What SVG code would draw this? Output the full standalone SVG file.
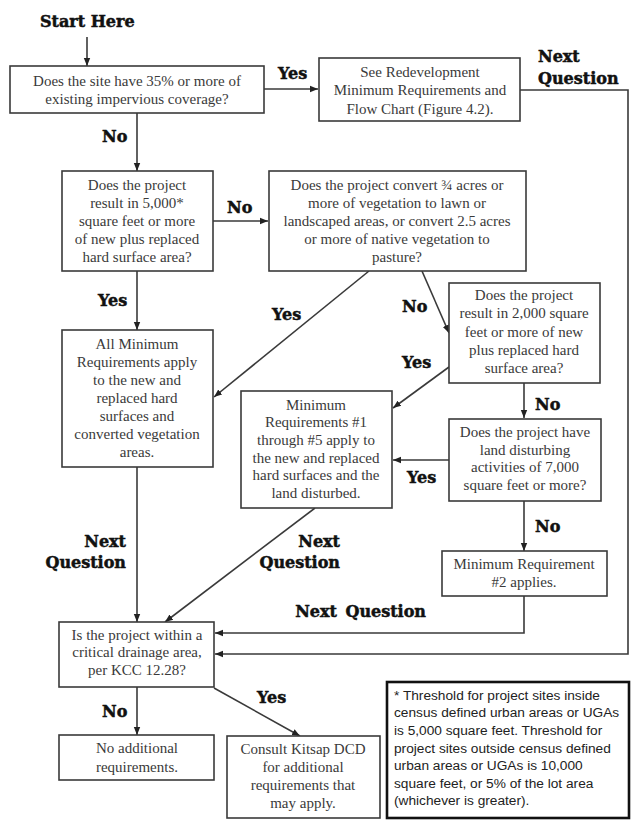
<svg xmlns="http://www.w3.org/2000/svg" width="644" height="834" viewBox="0 0 644 834">
<defs>
<marker id="ah" viewBox="0 0 10 10" refX="10" refY="5" markerWidth="8" markerHeight="8" markerUnits="userSpaceOnUse" orient="auto">
<path d="M0,1 L10,5 L0,9 z" fill="#222"/>
</marker>
<style>
.box{fill:#fff;stroke:#3a3a3a;stroke-width:1.6}
.note{fill:#fff;stroke:#111;stroke-width:2.6}
.t{font-family:"Liberation Serif","Times New Roman",serif;font-size:15px;fill:#3a3a3a;text-anchor:middle}
.n{font-family:"Liberation Sans",Arial,sans-serif;font-size:13.7px;fill:#222}
.lb{font-family:"DejaVu Serif",serif;font-weight:bold;font-size:16px;fill:#111;stroke:#111;stroke-width:0.5}
.c{fill:none;stroke:#3a3a3a;stroke-width:1.6}
.ca{fill:none;stroke:#3a3a3a;stroke-width:1.6;marker-end:url(#ah)}
</style>
</defs>
<rect width="644" height="834" fill="#fff"/>

<g id="connectors">
<path class="ca" d="M87,37 V66"/>
<path class="ca" d="M264,89 H318"/>
<path class="ca" d="M137,113 V171"/>
<path class="ca" d="M213,221 H268"/>
<path class="ca" d="M137,271 V330"/>
<path class="ca" d="M369,271 L214,397"/>
<path class="ca" d="M422,271 L449,333"/>
<path class="ca" d="M449,367 L393,408"/>
<path class="ca" d="M524,383 V418"/>
<path class="ca" d="M449,460 H393"/>
<path class="ca" d="M524,501 V551"/>
<path class="ca" d="M137,467 V622"/>
<path class="ca" d="M315,508 L165,622"/>
<path class="ca" d="M524,596 V633 H215"/>
<path class="ca" d="M520,90 H628 V654 H215"/>
<path class="ca" d="M137,687 V735"/>
<path class="ca" d="M214,688 L300,736"/>
</g>

<g id="labels">
<text class="lb" x="40" y="27">Start Here</text>
<text class="lb" x="278" y="79">Yes</text>
<text class="lb" x="538" y="62">Next</text>
<text class="lb" x="538" y="84">Question</text>
<text class="lb" x="102" y="142">No</text>
<text class="lb" x="227" y="213">No</text>
<text class="lb" x="98" y="306">Yes</text>
<text class="lb" x="272" y="320">Yes</text>
<text class="lb" x="402" y="312">No</text>
<text class="lb" x="402" y="368">Yes</text>
<text class="lb" x="535" y="410">No</text>
<text class="lb" x="407" y="483">Yes</text>
<text class="lb" x="535" y="532">No</text>
<text class="lb" x="126" y="547" text-anchor="end">Next</text>
<text class="lb" x="126" y="568" text-anchor="end">Question</text>
<text class="lb" x="340" y="547" text-anchor="end">Next</text>
<text class="lb" x="340" y="568" text-anchor="end">Question</text>
<text class="lb" x="426" y="617" text-anchor="end" style="word-spacing:3px">Next Question</text>
<text class="lb" x="102" y="717">No</text>
<text class="lb" x="257" y="703">Yes</text>
</g>

<g id="n1">
<rect class="box" x="10" y="66" width="254" height="47"/>
<text class="t" x="137" y="86">Does the site have 35% or more of</text>
<text class="t" x="137" y="104">existing impervious coverage?</text>
</g>

<g id="n2">
<rect class="box" x="319" y="58" width="201" height="63"/>
<text class="t" x="420" y="77">See Redevelopment</text>
<text class="t" x="420" y="95">Minimum Requirements and</text>
<text class="t" x="420" y="114">Flow Chart (Figure 4.2).</text>
</g>

<g id="n3">
<rect class="box" x="62" y="171" width="151" height="100"/>
<text class="t" x="137" y="190">Does the project</text>
<text class="t" x="137" y="208">result in 5,000*</text>
<text class="t" x="137" y="226">square feet or more</text>
<text class="t" x="137" y="244">of new plus replaced</text>
<text class="t" x="137" y="262">hard surface area?</text>
</g>

<g id="n4">
<rect class="box" x="269" y="171" width="257" height="100"/>
<text class="t" x="397" y="190">Does the project convert ¾ acres or</text>
<text class="t" x="397" y="208">more of vegetation to lawn or</text>
<text class="t" x="397" y="226">landscaped areas, or convert 2.5 acres</text>
<text class="t" x="397" y="244">or more of native vegetation to</text>
<text class="t" x="397" y="262">pasture?</text>
</g>

<g id="n5">
<rect class="box" x="62" y="330" width="151" height="137"/>
<text class="t" x="137" y="349">All Minimum</text>
<text class="t" x="137" y="367">Requirements apply</text>
<text class="t" x="137" y="385">to the new and</text>
<text class="t" x="137" y="403">replaced hard</text>
<text class="t" x="137" y="421">surfaces and</text>
<text class="t" x="137" y="439">converted vegetation</text>
<text class="t" x="137" y="457">areas.</text>
</g>

<g id="n6">
<rect class="box" x="449" y="283" width="151" height="100"/>
<text class="t" x="524" y="300">Does the project</text>
<text class="t" x="524" y="318">result in 2,000 square</text>
<text class="t" x="524" y="337">feet or more of new</text>
<text class="t" x="524" y="355">plus replaced hard</text>
<text class="t" x="524" y="373">surface area?</text>
</g>

<g id="n7">
<rect class="box" x="449" y="419" width="152" height="82"/>
<text class="t" x="525" y="437">Does the project have</text>
<text class="t" x="525" y="455">land disturbing</text>
<text class="t" x="525" y="472">activities  of 7,000</text>
<text class="t" x="525" y="490">square feet or more?</text>
</g>

<g id="n8">
<rect class="box" x="241" y="391" width="151" height="117"/>
<text class="t" x="316" y="410">Minimum</text>
<text class="t" x="316" y="427">Requirements #1</text>
<text class="t" x="316" y="445">through #5 apply to</text>
<text class="t" x="316" y="463">the new and replaced</text>
<text class="t" x="316" y="480">hard surfaces and the</text>
<text class="t" x="316" y="498">land disturbed.</text>
</g>

<g id="n9">
<rect class="box" x="442" y="551" width="165" height="45"/>
<text class="t" x="524" y="569">Minimum Requirement</text>
<text class="t" x="524" y="587">#2 applies.</text>
</g>

<g id="n10">
<rect class="box" x="59" y="622" width="155" height="65"/>
<text class="t" x="137" y="640">Is the project within a</text>
<text class="t" x="137" y="657">critical  drainage area,</text>
<text class="t" x="137" y="675">per KCC 12.28?</text>
</g>

<g id="n11">
<rect class="box" x="59" y="735" width="155" height="45"/>
<text class="t" x="137" y="753">No additional</text>
<text class="t" x="137" y="772">requirements.</text>
</g>

<g id="n12">
<rect class="box" x="227" y="736" width="153" height="82"/>
<text class="t" x="303" y="754">Consult Kitsap DCD</text>
<text class="t" x="303" y="772">for additional</text>
<text class="t" x="303" y="790">requirements that</text>
<text class="t" x="303" y="808">may apply.</text>
</g>

<g id="n13">
<rect class="note" x="387" y="682" width="242" height="136"/>
<text class="n" x="394" y="700">* Threshold for project sites inside</text>
<text class="n" x="394" y="717">census defined urban areas or UGAs</text>
<text class="n" x="394" y="735">is 5,000 square feet.  Threshold for</text>
<text class="n" x="394" y="753">project sites outside census defined</text>
<text class="n" x="394" y="770">urban areas or UGAs is 10,000</text>
<text class="n" x="394" y="788">square feet, or 5% of the lot area</text>
<text class="n" x="394" y="805">(whichever is greater).</text>
</g>
</svg>
